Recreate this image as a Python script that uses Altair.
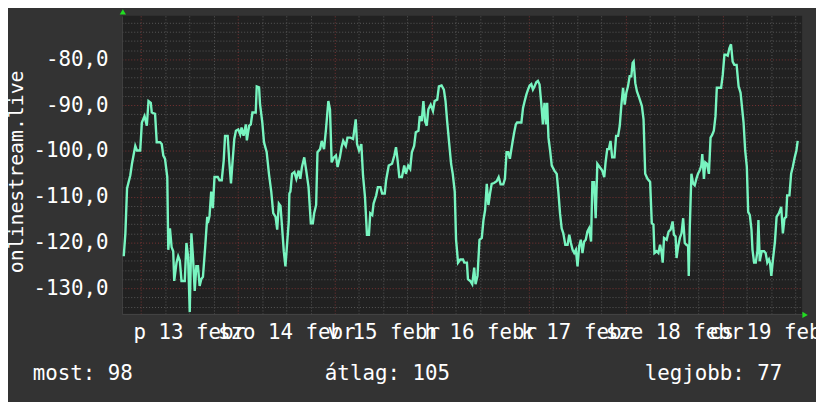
import altair as alt
import pandas as pd

# ---- data (hours since 2015-02-13 00:00, value) ----
HOURS_A = [-4.24,-3.83,-3.42,-2.61,-2.20,-1.38,-0.97,-0.16,0.25,0.91,1.48,1.89,2.46,2.70,3.52,3.93,4.75,5.16,5.56,5.97,6.54,6.79,7.20,7.61,8.01,8.26,8.83,9.24,9.65,10.06,10.87,11.28,11.69,12.10,12.51,12.92,13.33,13.73,14.14,14.55,14.96,15.37,15.94,16.43,16.76,17.00,17.41,17.82,18.23,19.04,19.45,20.02,20.51,20.84,21.49,21.90,22.31,22.72,23.13,23.54,24.11,24.60,24.93,25.42,25.99,26.24,26.81,27.22,27.62,28.44,28.69,29.26,29.50,30.07,30.48,31.14,31.71,32.28,32.77,33.34,33.75,34.16,34.57,34.98,35.38,35.79]
VALUES_A = [-123.0,-118.0,-108.2,-105.3,-102.8,-98.9,-99.9,-99.9,-93.8,-92.4,-94.5,-89.1,-89.5,-91.6,-91.9,-98.1,-98.1,-98.5,-101.0,-101.7,-105.7,-121.6,-116.9,-121.0,-121.9,-128.4,-124.4,-123.0,-124.0,-128.4,-128.4,-120.1,-123.0,-135.2,-118.0,-123.4,-130.6,-125.2,-125.2,-129.5,-128.0,-127.5,-120.8,-114.4,-115.1,-114.2,-108.9,-112.5,-105.7,-105.7,-106.4,-106.4,-102.1,-96.7,-96.7,-102.4,-107.1,-102.1,-97.4,-95.6,-95.3,-96.4,-94.9,-96.7,-94.2,-97.7,-94.5,-94.2,-91.6,-91.6,-85.9,-86.1,-89.8,-93.8,-98.1,-100.2,-105.0,-108.9,-113.6,-114.4,-117.2,-111.5,-112.0,-116.9,-121.9,-125.2]

HOURS_B = [36.61,36.77,37.02,37.43,38.00,38.49,39.06,39.47,39.88,40.45,40.94,41.51,42.08,42.57,42.90,43.39,43.72,44.37,44.78,45.35,45.84,46.41,46.82,47.23,47.80,48.29,48.70,49.27,49.68,50.09,50.74,51.15,51.89,52.54,53.19,53.52,54.01,54.58,54.99,55.48,55.97,56.46,56.79,57.28,57.61,58.26,58.67,59.32,59.73,60.38,60.71,61.36,62.18,62.75,63.16,63.57,63.98,64.63,65.20,65.61,66.18,66.67,67.08,67.65,68.06,68.72,69.04,69.53,69.94,70.35,70.76,71.17,71.74,72.31,72.72,73.37,73.78,74.44,75.01,75.42,75.82,76.23,76.80,77.21,77.70,78.03,78.52,79.09]
VALUES_B = [-115.4,-109.3,-108.9,-105.0,-104.6,-106.1,-104.3,-106.1,-103.5,-101.4,-104.3,-107.9,-115.8,-115.8,-113.6,-111.8,-100.3,-99.6,-97.8,-99.6,-95.2,-89.1,-90.9,-102.5,-101.4,-101.0,-103.5,-101.4,-99.2,-97.8,-98.9,-97.1,-97.1,-97.4,-93.1,-98.5,-99.9,-98.5,-105.3,-110.0,-118.3,-118.3,-113.6,-114.0,-111.5,-109.7,-107.9,-107.9,-109.3,-109.3,-106.4,-103.2,-102.8,-101.0,-99.2,-102.1,-105.7,-105.7,-103.2,-105.0,-103.2,-103.9,-100.3,-98.9,-95.9,-95.6,-92.4,-93.5,-89.1,-93.5,-94.5,-90.9,-89.9,-91.3,-89.1,-88.8,-85.9,-85.7,-86.6,-89.1,-93.5,-97.4,-102.8,-105.0,-108.9,-119.4,-124.4,-123.7]

HOURS_C = [79.74,80.07,80.72,80.97,81.54,82.03,82.52,82.85,83.34,83.83,84.40,84.81,85.22,85.63,86.03,86.44,86.85,87.42,88.08,88.57,89.06,89.71,90.12,90.53,90.94,91.35,92.00,92.41,92.82,93.14,94.20,94.61,95.02,95.43,95.84,96.25,96.66,97.06,97.47,97.88,98.29,98.70,99.11,99.52,99.92,100.33,100.58,100.90,101.31,101.72,102.37,102.95,103.35,103.76,104.17,104.58,105.07,105.64,106.05,106.46,106.87,107.28,107.69,108.10,108.50,108.91,109.32,109.73,110.14,110.55,110.96,111.45,111.77,112.18,112.59,113.00,113.57,114.22,114.71,115.04,115.45,115.86,116.26,116.67,117.24,117.65,118.14,118.55,118.96,119.37,119.78,120.18,120.59,121.00,121.41,121.74]
VALUES_C = [-123.7,-124.4,-124.4,-128.0,-128.4,-129.1,-125.5,-129.1,-127.3,-119.4,-119.0,-115.1,-112.9,-107.2,-111.8,-109.3,-107.2,-107.0,-106.6,-105.7,-107.3,-107.3,-106.1,-100.3,-100.3,-101.7,-98.1,-96.0,-94.2,-93.8,-93.8,-90.6,-89.1,-87.7,-86.6,-85.7,-85.4,-86.6,-85.9,-85.0,-84.7,-85.5,-89.5,-94.2,-89.5,-94.2,-89.5,-97.1,-99.9,-103.2,-104.3,-105.0,-108.9,-113.6,-116.9,-118.0,-120.5,-120.5,-118.3,-120.1,-121.6,-122.3,-121.6,-125.2,-120.8,-119.4,-122.3,-119.8,-119.4,-117.6,-116.9,-119.8,-106.8,-106.8,-114.7,-102.8,-103.5,-104.3,-105.7,-102.5,-99.6,-99.6,-97.8,-101.4,-101.4,-96.7,-96.7,-94.5,-89.9,-86.2,-89.9,-87.3,-85.9,-83.7,-83.7,-80.8]

HOURS_D = [121.99,122.40,122.81,123.38,124.03,124.44,124.85,125.42,126.07,126.48,126.89,127.14,127.71,128.12,128.53,128.93,129.18,129.51,130.16,130.65,131.14,131.63,131.96,132.37,132.61,133.02,133.43,133.84,134.25,134.65,135.06,135.47,135.63,135.88,136.29,136.70,137.11,137.51,137.92,138.33,138.74,138.98,139.39,139.72,140.13,140.62,141.03,141.43,141.84,142.25,142.58,143.64,144.05,144.46,144.87,145.28,145.68,146.09,146.50,146.91,147.48,147.97,148.46,148.79,149.20,149.60,150.01,150.34,150.75,151.16,151.41,151.81,152.22,152.63,152.88,153.20,153.69,154.27,154.67,155.08,155.49,155.74,156.07,156.48,156.97,157.38,157.95,158.52,158.93,159.34,159.74,159.99,160.56,160.97,161.38,161.87,162.28,162.60]
VALUES_D = [-80.5,-85.2,-87.0,-88.4,-90.2,-93.1,-105.0,-106.1,-106.8,-115.8,-116.1,-122.3,-121.9,-122.3,-120.5,-122.3,-124.4,-119.0,-119.4,-117.6,-117.2,-115.4,-118.3,-118.7,-123.4,-120.8,-119.0,-118.0,-114.7,-120.1,-120.5,-120.8,-127.3,-116.9,-105.0,-107.1,-107.5,-106.1,-105.0,-104.3,-103.2,-100.7,-106.1,-102.5,-102.8,-105.0,-97.1,-96.5,-95.6,-92.4,-86.2,-86.2,-83.4,-79.0,-79.0,-79.2,-77.6,-76.7,-80.5,-81.2,-81.2,-85.9,-87.3,-90.2,-93.8,-99.9,-103.5,-113.3,-114.0,-117.2,-121.6,-124.4,-124.4,-121.9,-115.1,-124.1,-121.9,-121.9,-122.3,-124.4,-123.7,-124.4,-127.3,-123.7,-119.8,-114.4,-113.6,-112.2,-118.0,-114.7,-114.4,-109.7,-109.7,-105.0,-103.5,-101.4,-99.9,-97.8]

DAY_NOON_HOURS = [12, 36, 60, 84, 108, 132, 156]
DAY_LABELS = ["p 13 febr", "szo 14 febr", "v 15 febr", "h 16 febr",
              "k 17 febr", "sze 18 febr", "cs 19 febr"]
SERIES_NAME = "onlinestream.live"
LEGEND_NAMES = ["most", "átlag", "legjobb"]
LEGEND_VALUES = [98, 105, 77]

X_DOMAIN = [-4.7, 163.7]
Y_DOMAIN = [-135.6, -70.5]

# ---- styling ----
FONT = "DejaVu Sans Mono"
BG = "#333333"
PLOT_BG = "#212121"
MINOR = "#585858"
MAJOR = "#7a3434"
LINE = "#78f5c0"
ARROW = "#22dd22"
W, H = 687, 301

df = pd.DataFrame({
    "h": HOURS_A + HOURS_B + HOURS_C + HOURS_D,
    "v": VALUES_A + VALUES_B + VALUES_C + VALUES_D,
})

label_expr = "".join(
    f"datum.value == {h} ? '{t}' : " for h, t in zip(DAY_NOON_HOURS, DAY_LABELS)
) + "''"

x_ticks = list(range(0, 164, 6))
y_ticks = list(range(-134, -70, 2))

x_enc = alt.X(
    "h:Q",
    scale=alt.Scale(domain=X_DOMAIN, nice=False, zero=False),
    axis=alt.Axis(
        values=x_ticks + DAY_NOON_HOURS,
        labelExpr=label_expr,
        title=None,
        ticks=False,
        labelOverlap=False,
        labelFlush=False,
        labelPadding=8,
        labelFont=FONT,
        labelFontSize=21,
        labelColor="#ffffff",
        grid=True,
        gridColor={"condition": {"test": "datum.value % 24 === 0", "value": MAJOR},
                   "value": MINOR},
        gridOpacity={"condition": {"test": "datum.value % 6 !== 0", "value": 0},
                     "value": 1},
        gridDash=[1, 2],
        gridWidth=1,
        domainColor="#454545",
    ),
)

y_enc = alt.Y(
    "v:Q",
    scale=alt.Scale(domain=Y_DOMAIN, nice=False, zero=False),
    axis=alt.Axis(
        values=y_ticks,
        labelExpr="datum.value % 10 === 0 ? datum.value + ',0' : ''",
        ticks=False,
        labelOverlap=False,
        labelFlush=False,
        labelPadding=14,
        labelFont=FONT,
        labelFontSize=21,
        labelColor="#ffffff",
        grid=True,
        gridColor={"condition": {"test": "datum.value % 10 === 0", "value": MAJOR},
                   "value": MINOR},
        gridDash=[1, 2],
        gridWidth=1,
        domainColor="#454545",
        title=SERIES_NAME,
        titleFont=FONT,
        titleFontSize=20,
        titleFontWeight="normal",
        titleColor="#ffffff",
        titleAngle=270,
        titleAlign="center",
        titleBaseline="middle",
        titleX=-106,
        titleY=157,
    ),
)

line = alt.Chart(df).mark_line(color=LINE, strokeWidth=2.4).encode(x=x_enc, y=y_enc)

one = pd.DataFrame({"k": [0]})
up_arrow = alt.Chart(one).mark_point(
    shape="triangle-up", filled=True, color=ARROW, size=40, opacity=1
).encode(x=alt.value(1), y=alt.value(-4))
right_arrow = alt.Chart(one).mark_point(
    shape="triangle-right", filled=True, color=ARROW, size=40, opacity=1
).encode(x=alt.value(W + 3), y=alt.value(H + 1))

legend_x = [-90, 205, 528]
legend_layers = []
for name, val, lx in zip(LEGEND_NAMES, LEGEND_VALUES, legend_x):
    legend_layers.append(
        alt.Chart(pd.DataFrame({"t": [f"{name}: {val}"]})).mark_text(
            align="left", baseline="alphabetic", font=FONT, fontSize=21,
            color="#ffffff"
        ).encode(text="t:N", x=alt.value(lx), y=alt.value(368))
    )

chart = alt.layer(line, up_arrow, right_arrow, *legend_layers).properties(
    width=W,
    height=H,
    background=BG,
    autosize=alt.AutoSizeParams(type="none"),
    padding={"left": 115, "top": 6, "right": 14, "bottom": 87},
).configure_view(fill=PLOT_BG, stroke=None)

chart.save("out.html", embed_options={"renderer": "svg", "actions": False})
